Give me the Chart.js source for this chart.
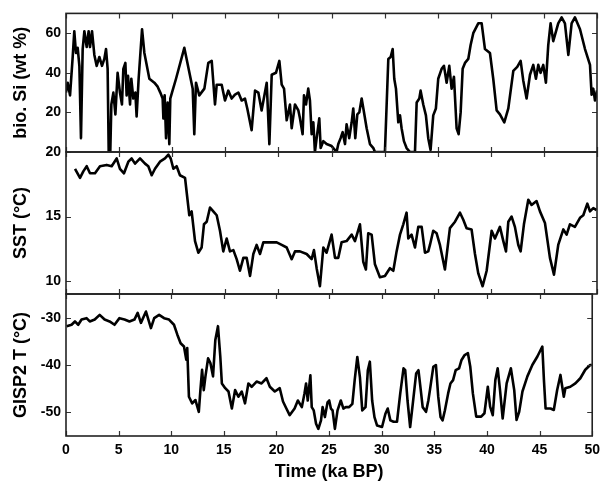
<!DOCTYPE html>
<html><head><meta charset="utf-8">
<script src="https://cdn.jsdelivr.net/npm/chart.js@4.4.0/dist/chart.umd.min.js"></script>
<style>
html,body{margin:0;padding:0;background:#fff;}
#wrap{position:relative;width:606px;height:481px;}
#wrap canvas{position:absolute;left:0;top:0;}
</style>
</head><body>
<div id="wrap">
<canvas id="c1" width="606" height="481"></canvas>
<canvas id="c2" width="606" height="481"></canvas>
<canvas id="c3" width="606" height="481"></canvas>
</div>
<script>
// ---------- data ----------
const xTickValues = [0,5,10,15,20,25,30,35,40,45,50];

const siTime = [0,0.16,0.38,0.63,0.78,0.94,1.10,1.26,1.41,1.57,
 1.73,1.95,2.13,2.26,2.45,2.67,2.89,3.14,3.39,3.61,
 3.77,3.92,4.02,4.17,4.27,4.46,4.65,4.86,5.08,5.27,
 5.40,5.59,5.71,5.84,6.03,6.15,6.34,6.53,6.65,6.84,
 7.16,7.38,7.85,8.32,8.63,8.88,9.10,9.17,9.29,9.42,
 9.57,9.73,9.82,9.98,10.36,11.14,11.93,12.08,12.24,12.55,
 13.03,13.40,13.72,14.03,14.19,14.66,14.97,15.28,15.60,15.91,
 16.23,16.54,16.85,17.07,17.48,17.80,18.11,18.42,18.90,19.15,
 19.37,19.77,20.09,20.31,20.53,20.78,21.09,21.25,21.56,21.88,
 22.03,22.28,22.41,22.60,22.81,22.97,23.13,23.29,23.44,23.60,
 23.85,23.98,24.23,24.54,25.01,25.48,25.64,25.86,26.05,26.27,
 26.42,26.67,26.90,27.05,27.24,27.43,27.62,27.84,28.00,28.31,
 28.62,28.94,29.09,30.03,30.35,30.57,30.76,30.91,31.07,31.29,
 31.45,31.60,31.82,32.07,32.39,32.86,33.02,33.27,33.39,33.64,
 33.89,34.11,34.33,34.58,34.83,35.05,35.37,35.59,35.84,36.09,
 36.31,36.53,36.78,36.97,37.16,37.35,37.57,37.88,38.10,38.35,
 38.82,39.14,39.45,39.92,40.23,40.55,40.86,41.27,41.65,42.12,
 42.49,42.81,43.06,43.37,43.69,44.00,44.25,44.47,44.69,44.94,
 45.19,45.41,45.63,45.88,46.35,46.67,46.98,47.30,47.61,47.92,
 48.40,48.87,49.34,49.49,49.65,49.81,50];
const siValue = [30,35,28.6,48,61,50,52.6,43.5,7,52,
 61,53,61,53,61,49,43.5,48,43.5,47,
 52,42,0,0,24,30,19,40,30,24,
 42,45,28.6,38.5,24,37,27,30,18,37,
 62,50,37,35,33,30,27,17,28.6,7,
 25,4,27,30,37,52.6,32,9,35,28.6,
 32,45,46,24,34,34,26,31,27,29,
 30,26,27,22,11,31,30,21,35,4,
 39,40,46,34,32,16,24,12,24,21,
 17,9,28.6,24,32,26,9,15,0,7,
 17,2,5.5,4,3,0,4,7,10,4,
 14,7,15,22,7,19,20,27,22,12,
 4,2,0,0,47,48,52,37,32,15,
 18.5,12,5.5,2,0,0,25,27,31,24,
 18.5,7,1,18.5,22,37,42,43.5,35,43.5,
 32,38,12,9,20,42,45,47,54,60,
 65,65,52,50,37,21,19,15,22,41,
 43,46,36,27,39,44,37,44,40,44,
 35,54,65,56,65,68,65,49,65,68,
 62,52,44,29,32,26,31];

const sstTime = [0.85,1.32,1.63,1.95,2.26,2.73,3.20,3.83,4.30,4.77,
 5.08,5.46,5.87,6.18,6.50,6.97,7.44,7.75,8.07,8.38,
 8.85,9.32,9.64,9.86,10.11,10.42,10.73,11.21,11.36,11.61,
 11.83,12.15,12.46,12.77,12.99,13.25,13.56,13.87,14.19,14.50,
 14.81,15.13,15.44,15.76,16.07,16.38,16.70,17.01,17.33,17.64,
 17.95,18.27,18.58,19.21,19.84,20.31,20.78,21.25,21.56,22.03,
 22.66,23.13,23.35,23.60,23.91,24.23,24.54,25.01,25.33,25.64,
 25.95,26.42,26.90,27.21,27.68,27.99,28.24,28.46,28.78,29.09,
 29.56,30.03,30.50,30.82,31.13,31.45,31.76,32.07,32.23,32.54,
 32.86,33.17,33.49,33.80,34.11,34.27,34.58,34.90,35.21,35.68,
 36.15,36.63,37.10,37.41,37.72,38.19,38.51,38.82,39.23,39.61,
 40.08,40.39,40.86,41.18,41.43,41.65,41.96,42.27,42.59,42.81,
 43.12,43.53,43.84,44.31,44.63,45.10,45.57,45.95,46.35,46.83,
 47.14,47.45,47.92,48.40,48.71,49.09,49.34,49.65,49.96];
const sstValue = [18.7,18.0,18.5,18.9,18.35,18.35,18.9,19.0,18.9,19.5,
 18.7,18.35,19.25,19.5,19.1,19.5,19.1,18.9,18.2,18.7,
 19.25,19.5,19.8,19.5,18.7,18.9,18.2,18.0,16.9,15.1,
 15.4,13.1,12.2,12.6,14.4,14.6,15.7,15.4,15.1,13.9,
 12.3,13.3,12.3,12.4,11.7,10.8,11.8,11.8,10.4,12.1,
 12.8,12.1,13.0,13.0,13.0,12.8,12.6,11.7,12.3,12.3,
 12.1,11.7,12.4,11.0,9.6,12.6,12.2,13.6,11.8,11.8,
 13.0,13.1,13.6,13.1,14.4,11.5,10.9,13.7,13.6,11.3,
 10.3,10.4,11.0,10.8,12.3,13.6,14.4,15.3,13.3,13.6,
 12.6,14.2,14.2,12.2,12.3,12.8,13.9,13.7,12.8,10.9,
 14.1,14.6,15.3,14.75,14.1,14.0,12.1,10.6,9.6,10.8,
 13.9,13.3,14.2,13.1,12.3,14.6,15.0,14.2,12.8,12.3,
 14.4,16.3,15.9,16.2,15.4,14.5,11.8,10.5,12.8,14.0,
 13.6,14.4,14.2,14.9,15.1,16.0,15.4,15.65,15.5];

const gispTime = [0.06,0.53,0.85,1.16,1.48,1.95,2.26,2.73,3.20,3.67,
 4.14,4.61,5.08,5.56,6.03,6.50,6.81,7.12,7.60,8.07,
 8.38,8.85,9.32,9.79,10.26,10.58,10.89,11.21,11.43,11.52,
 11.68,11.99,12.30,12.62,12.77,12.93,13.09,13.25,13.50,13.72,
 13.97,14.19,14.44,14.66,14.81,15.13,15.44,15.76,16.07,16.38,
 16.70,17.01,17.33,17.64,18.11,18.58,19.05,19.37,19.84,20.31,
 20.62,20.94,21.25,21.72,22.03,22.41,22.66,22.81,22.97,23.22,
 23.35,23.54,23.76,23.98,24.23,24.38,24.60,24.85,25.01,25.17,
 25.33,25.55,25.80,26.11,26.36,26.58,26.90,27.21,27.43,27.68,
 27.93,28.15,28.46,28.68,28.87,29.09,29.31,29.56,30.03,30.35,
 30.57,30.82,31.13,31.45,31.76,32.07,32.23,32.45,32.70,32.95,
 33.27,33.49,33.71,33.89,34.21,34.43,34.58,34.90,35.15,35.37,
 35.59,35.78,36.00,36.31,36.53,36.78,37.03,37.35,37.57,37.88,
 38.19,38.41,38.66,38.98,39.45,39.76,40.08,40.30,40.55,40.80,
 41.02,41.24,41.49,41.87,42.27,42.59,42.81,43.06,43.37,43.84,
 44.31,44.79,45.26,45.41,45.57,46.04,46.35,46.67,46.98,47.30,
 47.45,47.92,48.40,48.87,49.34,49.81,49.96];
const gispValue = [-31.8,-31.5,-30.8,-31.5,-30.4,-30.1,-30.8,-30.4,-29.4,-30.4,
 -30.8,-31.5,-30.1,-30.4,-30.8,-30.4,-29.0,-31.1,-28.7,-32.2,
 -30.1,-29.4,-30.1,-30.4,-31.5,-33.6,-35.4,-36.1,-38.9,-36.4,
 -46.7,-48.1,-47.4,-49.9,-45.3,-41.0,-45.3,-42.4,-38.6,-39.6,
 -42.4,-34.7,-31.8,-38.2,-43.9,-44.9,-45.6,-49.2,-45.3,-46.7,
 -45.6,-48.1,-43.9,-44.6,-43.5,-43.9,-42.8,-44.6,-45.6,-44.9,
 -47.7,-49.2,-50.6,-49.2,-47.5,-48.9,-46.0,-43.9,-47.5,-42.2,
 -48.9,-49.6,-52.4,-53.5,-51.7,-48.9,-51.0,-47.9,-47.5,-49.2,
 -49.6,-53.5,-49.6,-47.5,-49.2,-48.9,-48.9,-48.2,-43.2,-38.3,
 -42.6,-49.6,-48.9,-41.1,-39.3,-47.5,-51.0,-52.8,-53.1,-50.3,
 -49.2,-51.7,-52.0,-52.0,-46.0,-40.7,-41.1,-47.5,-53.1,-48.2,
 -41.8,-41.1,-45.3,-48.9,-49.9,-47.5,-45.3,-40.4,-40.0,-46.7,
 -51.0,-51.7,-49.6,-46.0,-43.9,-43.2,-41.1,-40.7,-39.0,-37.9,
 -37.5,-40.3,-46.0,-50.9,-50.9,-50.2,-44.6,-48.8,-50.6,-43.1,
 -40.7,-45.3,-51.3,-43.9,-40.7,-45.3,-51.6,-49.9,-45.6,-42.4,
 -40.0,-38.2,-36.1,-43.1,-49.2,-49.2,-49.5,-45.3,-42.1,-46.7,
 -44.9,-44.6,-43.9,-42.8,-41.0,-40.0,-40.0];

const siTicks = [20,40,60];
const sstTicks = [10,15,20];
const gispTicks = [-50,-40,-30];

// ---------- rendering ----------
Chart.defaults.font.family = '"Liberation Sans", Arial, Helvetica, sans-serif';
Chart.defaults.color = '#000';

const toPoints = (xs, ys) => xs.map((x, i) => ({x: x, y: ys[i]}));

const framePlugin = {
  id: 'frame',
  afterDraw(chart) {
    const {ctx, chartArea: a, scales} = chart;
    ctx.save();
    ctx.strokeStyle = '#333';
    ctx.lineWidth = 1.2;
    ctx.beginPath();
    for (const v of xTickValues) {
      const px = Math.round(scales.x.getPixelForValue(v)) + 0.5;
      ctx.moveTo(px, a.top); ctx.lineTo(px, a.top + 5);
      ctx.moveTo(px, a.bottom); ctx.lineTo(px, a.bottom - 5);
    }
    for (const t of scales.y.ticks) {
      const py = Math.round(scales.y.getPixelForValue(t.value)) + 0.5;
      ctx.moveTo(a.left, py); ctx.lineTo(a.left + 5, py);
      ctx.moveTo(a.right, py); ctx.lineTo(a.right - 5, py);
    }
    ctx.stroke();
    ctx.lineWidth = 1.6;
    ctx.strokeStyle = '#222';
    ctx.strokeRect(a.left, a.top, a.right - a.left, a.bottom - a.top);
    ctx.restore();
  }
};

function makePanel(id, xs, ys, yMin, yMax, yTicks, yTitle, top, bottomPad, showX) {
  return new Chart(document.getElementById(id), {
    type: 'line',
    data: {
      datasets: [{
        data: toPoints(xs, ys),
        borderColor: '#000',
        borderWidth: 2.6,
        pointRadius: 0,
        tension: 0,
        fill: false,
        borderJoinStyle: 'round'
      }]
    },
    options: {
      responsive: false,
      animation: false,
      events: [],
      layout: {padding: {left: 0, right: 9, top: top, bottom: bottomPad}},
      plugins: {legend: {display: false}, tooltip: {enabled: false}},
      scales: {
        x: {
          type: 'linear', min: 0, max: 50,
          display: showX,
          afterBuildTicks: (s) => { s.ticks = xTickValues.map(v => ({value: v})); },
          afterFit: (s) => { s.height = showX ? 45 : 0; },
          grid: {display: false, drawTicks: false},
          border: {display: false},
          ticks: {font: {size: 14, weight: 'bold'}, padding: 6, color: '#000', maxRotation: 0},
          title: {display: true, text: 'Time (ka BP)', font: {size: 18, weight: 'bold', lineHeight: 1}, padding: {top: 0, bottom: 0}, color: '#000'}
        },
        y: {
          type: 'linear', min: yMin, max: yMax,
          afterBuildTicks: (s) => { s.ticks = yTicks.map(v => ({value: v})); },
          afterFit: (s) => { s.width = 66; },
          grid: {display: false, drawTicks: false},
          border: {display: false},
          ticks: {font: {size: 14, weight: 'bold'}, padding: 5, color: '#000'},
          title: {display: true, text: yTitle, font: {size: 18, weight: 'bold', lineHeight: 1}, padding: {top: 12, bottom: 0}, color: '#000'}
        }
      }
    },
    plugins: [framePlugin]
  });
}

makePanel('c1', siTime, siValue, 0, 70, siTicks, 'bio. Si (wt %)', 11, 481 - 152, false);
makePanel('c2', sstTime, sstValue, 9, 20, sstTicks, 'SST (\u00B0C)', 152, 481 - 294, false);
makePanel('c3', gispTime, gispValue, -55, -25, gispTicks, 'GISP2 T (\u00B0C)', 294, 0, true);
</script>
</body></html>
